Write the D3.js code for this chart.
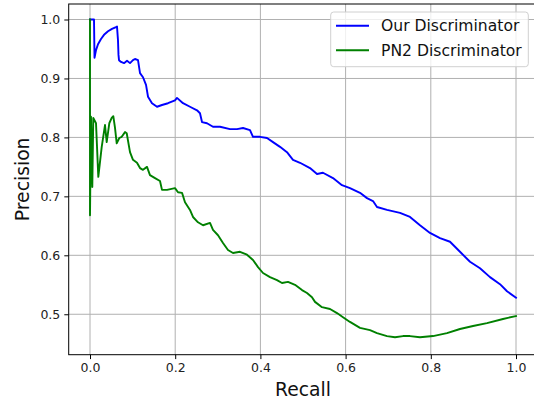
<!DOCTYPE html>
<html>
<head>
<meta charset="utf-8">
<script src="https://cdn.jsdelivr.net/npm/d3@7"></script>
<style>
  html, body { margin: 0; padding: 0; background: #fff; }
  svg { display: block; font-family: "DejaVu Sans", sans-serif; }
</style>
</head>
<body>
<svg id="chart" width="534" height="400"></svg>
<script>
// ---- data ----
const seriesNames = ["Our Discriminator", "PN2 Discriminator"];
const seriesColors = ["#0000ff", "#008000"];

const ourRecall = [0, 0.0094, 0.0106, 0.0141, 0.0188, 0.0258, 0.0329, 0.0423, 0.0516, 0.0610, 0.0634,
  0.0657, 0.0669, 0.0681, 0.0728, 0.0798, 0.0869, 0.0939, 0.1009, 0.1056, 0.1127, 0.1174, 0.1244,
  0.1315, 0.1362, 0.1455, 0.1573, 0.1690, 0.1831, 0.1995, 0.2042, 0.2183, 0.2347, 0.2512, 0.2582,
  0.2629, 0.2746, 0.2887, 0.3052, 0.3286, 0.3451, 0.3592, 0.3756, 0.3826, 0.3991, 0.4155, 0.4296,
  0.4460, 0.4624, 0.4765, 0.4930, 0.5164, 0.5329, 0.5469, 0.5704, 0.5915, 0.6103, 0.6338, 0.6502,
  0.6643, 0.6737, 0.6972, 0.7277, 0.7512, 0.7746, 0.7981, 0.8216, 0.8451, 0.8685, 0.8920, 0.9155,
  0.9390, 0.9624, 0.9789, 1.0];
const ourPrecision = [1.000, 1.000, 0.935, 0.948, 0.958, 0.967, 0.974, 0.980, 0.984, 0.987, 0.988,
  0.965, 0.940, 0.931, 0.928, 0.926, 0.930, 0.926, 0.931, 0.933, 0.931, 0.909, 0.902,
  0.889, 0.869, 0.858, 0.852, 0.855, 0.858, 0.863, 0.867, 0.858, 0.852, 0.846, 0.841,
  0.826, 0.824, 0.818, 0.818, 0.814, 0.814, 0.816, 0.8125, 0.801, 0.801, 0.799, 0.792,
  0.784, 0.775, 0.762, 0.757, 0.748, 0.738, 0.740, 0.731, 0.719, 0.714, 0.706, 0.697,
  0.692, 0.682, 0.677, 0.672, 0.665, 0.651, 0.638, 0.629, 0.623, 0.606, 0.589, 0.578,
  0.563, 0.551, 0.539, 0.528];

const pn2Recall = [0, 0, 0.0023, 0.0054, 0.0077, 0.0141, 0.0195, 0.0275, 0.0352, 0.0392, 0.0453,
  0.0509, 0.0547, 0.0587, 0.0627, 0.0688, 0.0744, 0.0822, 0.0862, 0.0939, 0.1009, 0.1103, 0.1174,
  0.1244, 0.1338, 0.1408, 0.1526, 0.1643, 0.1690, 0.1808, 0.1995, 0.2066, 0.2160, 0.2230, 0.2347,
  0.2418, 0.2535, 0.2653, 0.2817, 0.2887, 0.3005, 0.3122, 0.3239, 0.3357, 0.3521, 0.3685, 0.3826,
  0.3944, 0.4061, 0.4225, 0.4390, 0.4507, 0.4648, 0.4812, 0.4977, 0.5094, 0.5211, 0.5282, 0.5446,
  0.5634, 0.5798, 0.5939, 0.6103, 0.6338, 0.6573, 0.6737, 0.6972, 0.7160, 0.7347, 0.7512, 0.7746,
  0.8052, 0.8380, 0.8685, 0.8991, 0.9319, 0.9695, 1.0];
const pn2Precision = [1.000, 0.668, 0.835, 0.716, 0.833, 0.824, 0.733, 0.784, 0.821, 0.792, 0.824,
  0.833, 0.836, 0.816, 0.790, 0.799, 0.801, 0.809, 0.807, 0.775, 0.762, 0.757, 0.748,
  0.745, 0.750, 0.736, 0.731, 0.726, 0.711, 0.711, 0.714, 0.707, 0.706, 0.690, 0.677,
  0.665, 0.656, 0.651, 0.655, 0.643, 0.634, 0.621, 0.609, 0.604, 0.606, 0.601, 0.592,
  0.580, 0.570, 0.563, 0.558, 0.553, 0.555, 0.550, 0.541, 0.536, 0.529, 0.521, 0.512,
  0.509, 0.502, 0.495, 0.487, 0.477, 0.473, 0.468, 0.463, 0.461, 0.463, 0.463, 0.461,
  0.463, 0.468, 0.475, 0.480, 0.485, 0.492, 0.497];

const xTicks = [0.0, 0.2, 0.4, 0.6, 0.8, 1.0];
const yTicks = [0.5, 0.6, 0.7, 0.8, 0.9, 1.0];
const xLabel = "Recall";
const yLabel = "Precision";

// ---- layout ----
const svg = d3.select("#chart");
const mLeft = 68.7, mRight = 537.3, mTop = 4, mBottom = 354.7;

const x = d3.scaleLinear().domain([-0.05, 1.05]).range([mLeft, mRight]);
const y = d3.scaleLinear().domain([0.4314, 1.0263]).range([mBottom, mTop]);

// grid
const grid = svg.append("g");
grid.selectAll("line.gx").data(xTicks).enter().append("line")
  .attr("x1", d => x(d)).attr("x2", d => x(d))
  .attr("y1", mTop).attr("y2", mBottom)
  .attr("stroke", "#b0b0b0").attr("stroke-width", 1);
grid.selectAll("line.gy").data(yTicks).enter().append("line")
  .attr("x1", mLeft).attr("x2", mRight)
  .attr("y1", d => y(d)).attr("y2", d => y(d))
  .attr("stroke", "#b0b0b0").attr("stroke-width", 1);

// series
const series = [
  { name: seriesNames[0], color: seriesColors[0], xs: ourRecall, ys: ourPrecision },
  { name: seriesNames[1], color: seriesColors[1], xs: pn2Recall, ys: pn2Precision }
];
const line = d3.line().x(d => x(d[0])).y(d => y(d[1]));
series.forEach(s => {
  svg.append("path")
    .datum(s.xs.map((v, i) => [v, s.ys[i]]))
    .attr("d", line)
    .attr("fill", "none")
    .attr("stroke", s.color)
    .attr("stroke-width", 1.9)
    .attr("stroke-linejoin", "round")
    .attr("stroke-linecap", "square");
});

// axes
const xAxis = d3.axisBottom(x).tickValues(xTicks).tickFormat(d3.format(".1f")).tickSize(4.4).tickPadding(4);
const yAxis = d3.axisLeft(y).tickValues(yTicks).tickFormat(d3.format(".1f")).tickSize(4.4).tickPadding(4);

const gx = svg.append("g").attr("transform", `translate(0,${mBottom})`).call(xAxis);
const gy = svg.append("g").attr("transform", `translate(${mLeft},0)`).call(yAxis);
[gx, gy].forEach(g => {
  g.select(".domain").remove();
  g.selectAll(".tick line").attr("stroke", "#000").attr("stroke-width", 1);
  g.selectAll(".tick text").attr("fill", "#222").style("font-family", "DejaVu Sans").style("font-size", "12.5px");
});

// spines
svg.append("rect")
  .attr("x", mLeft).attr("y", mTop)
  .attr("width", mRight - mLeft).attr("height", mBottom - mTop)
  .attr("fill", "none").attr("stroke", "#000").attr("stroke-width", 1);

// axis labels
svg.append("text")
  .attr("x", (mLeft + mRight) / 2).attr("y", 396)
  .attr("text-anchor", "middle")
  .style("font-size", "18.75px").attr("fill", "#111")
  .text(xLabel);
svg.append("text")
  .attr("transform", `translate(29,${(mTop + mBottom) / 2}) rotate(-90)`)
  .attr("text-anchor", "middle")
  .style("font-size", "18.75px").attr("fill", "#111")
  .text(yLabel);

// legend
const lg = svg.append("g");
lg.append("rect")
  .attr("x", 330.7).attr("y", 12).attr("width", 197.6).attr("height", 54.7)
  .attr("rx", 3).attr("ry", 3)
  .attr("fill", "rgba(255,255,255,0.8)").attr("stroke", "#d0d0d0").attr("stroke-width", 1);
series.forEach((s, i) => {
  const cy = 25.7 + i * 24.5;
  lg.append("line")
    .attr("x1", 336).attr("x2", 369).attr("y1", cy).attr("y2", cy)
    .attr("stroke", s.color).attr("stroke-width", 1.9);
  lg.append("text")
    .attr("x", 381).attr("y", cy + 5.4)
    .style("font-size", "15.6px").attr("fill", "#111")
    .text(s.name);
});
</script>
</body>
</html>
